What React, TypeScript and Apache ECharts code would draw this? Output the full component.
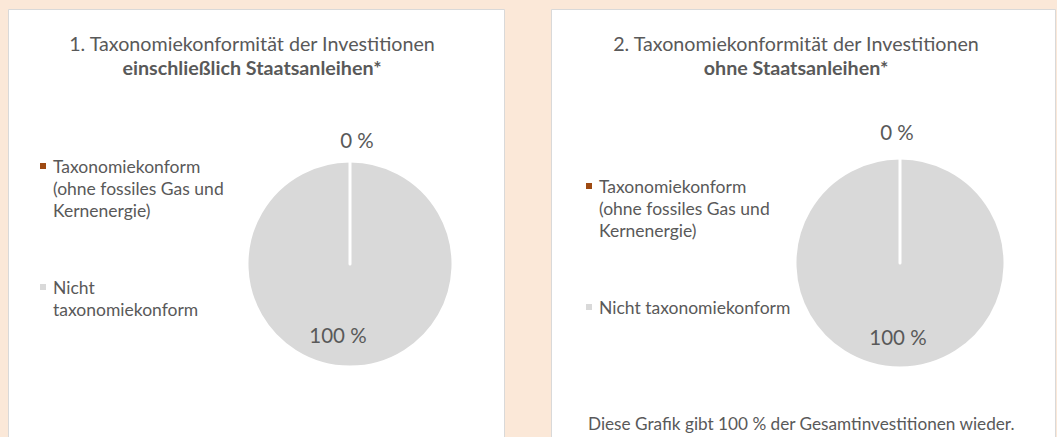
import React, { useEffect, useRef } from "react";
import * as echarts from "echarts";

const categories = [
  "Taxonomiekonform (ohne fossiles Gas und Kernenergie)",
  "Nicht taxonomiekonform",
];
const valuesWithBonds = [0, 100];
const valuesWithoutBonds = [0, 100];
const sliceColors = ["#9E4A12", "#D9D9D9"];
const titleLine1 = [
  "1. Taxonomiekonformität der Investitionen",
  "2. Taxonomiekonformität der Investitionen",
];
const titleLine2 = ["einschließlich Staatsanleihen*", "ohne Staatsanleihen*"];
const footnote = "Diese Grafik gibt 100 % der Gesamtinvestitionen wieder.";
const legendLinesLeft = [
  ["Taxonomiekonform", "(ohne fossiles Gas und", "Kernenergie)"],
  ["Nicht", "taxonomiekonform"],
];
const legendLinesRight = [
  ["Taxonomiekonform", "(ohne fossiles Gas und", "Kernenergie)"],
  ["Nicht taxonomiekonform"],
];

const FONT = "Lato, 'Noto Sans', sans-serif";
const TEXT = "#595959";
const BG = "#FBE8D8";

const PIE_CENTERS: [number, number][] = [
  [350, 264],
  [900, 263],
];
const PIE_RADII = [103, 105];
const LABEL_OFFSETS = [
  [[7, -21], [-12, 16]],
  [[-3, -26], [-2, 18]],
];

function makeLegendFormatter(lines: string[][]) {
  return (name: string) => {
    const idx = categories.indexOf(name);
    return lines[idx]
      .map((l, i) => (i === 0 ? `{m${idx}|}{g|}${l}` : `{ind|}${l}`))
      .join("\n");
  };
}

const legendRich = {
  m0: { width: 6, height: 6, backgroundColor: sliceColors[0], lineHeight: 22 },
  m1: { width: 6, height: 6, backgroundColor: sliceColors[1], lineHeight: 22 },
  g: { width: 7, lineHeight: 22 },
  ind: { width: 13, lineHeight: 22 },
};

function pieSeries(values: number[], s: number) {
  return {
    type: "pie",
    center: PIE_CENTERS[s],
    radius: PIE_RADII[s],
    startAngle: 90,
    clockwise: true,
    avoidLabelOverlap: false,
    emphasis: { disabled: true },
    itemStyle: { borderColor: "#FFFFFF", borderWidth: 3 },
    labelLine: { show: false, length: 0, length2: 0 },
    label: {
      formatter: "{c} %",
      color: TEXT,
      fontFamily: FONT,
      fontSize: 20.5,
      distanceToLabelLine: 0,
    },
    labelLayout: (params: any) => {
      const off = LABEL_OFFSETS[s][params.dataIndex];
      return { align: "center", verticalAlign: "middle", dx: off[0], dy: off[1] };
    },
    data: values.map((v, i) => ({
      name: categories[i],
      value: v,
      itemStyle: { color: sliceColors[i] },
      label: { position: i === 0 ? "outside" : "inside" },
    })),
  };
}

export default function App() {
  const ref = useRef<HTMLDivElement>(null);
  useEffect(() => {
    if (!ref.current) return;
    const chart = echarts.init(ref.current, undefined, { renderer: "svg" });
    const titleRich = {
      a: { fontSize: 19.7, color: TEXT, fontFamily: FONT, lineHeight: 24, fontWeight: "normal" },
      b: { fontSize: 19.7, color: TEXT, fontFamily: FONT, lineHeight: 24, fontWeight: "bold" },
    };
    const legendText = { color: TEXT, fontFamily: FONT, fontSize: 17.5, lineHeight: 22, rich: legendRich };
    // separator line of the zero slice at 12 o'clock, derived from the pie layout constants
    const separators = PIE_CENTERS.map((c, i) => ({
      type: "line",
      z: 100,
      shape: { x1: c[0], y1: c[1], x2: c[0], y2: c[1] - PIE_RADII[i] - 1 },
      style: { stroke: "#FFFFFF", lineWidth: 3, lineCap: "round" },
    }));
    chart.setOption({
      animation: false,
      backgroundColor: BG,
      graphic: [
        {
          type: "rect",
          z: -10,
          shape: { x: 8.5, y: 9.5, width: 496, height: 440 },
          style: { fill: "#FFFFFF", stroke: "#D9D9D9", lineWidth: 1 },
        },
        {
          type: "rect",
          z: -10,
          shape: { x: 551.5, y: 9.5, width: 504, height: 440 },
          style: { fill: "#FFFFFF", stroke: "#D9D9D9", lineWidth: 1 },
        },
        ...separators,
      ],
      title: [
        {
          text: `{a|${titleLine1[0]}}\n{b|${titleLine2[0]}}`,
          left: 252,
          top: 31,
          padding: 0,
          textAlign: "center",
          textStyle: { fontWeight: "normal", rich: titleRich },
        },
        {
          text: `{a|${titleLine1[1]}}\n{b|${titleLine2[1]}}`,
          left: 796,
          top: 31,
          padding: 0,
          textAlign: "center",
          textStyle: { fontWeight: "normal", rich: titleRich },
        },
        {
          text: footnote,
          left: 588,
          top: 413,
          padding: 0,
          textStyle: { color: TEXT, fontFamily: FONT, fontSize: 17.2, fontWeight: "normal", lineHeight: 20 },
        },
      ],
      legend: [
        {
          orient: "vertical",
          left: 35,
          top: 155,
          padding: 0,
          itemGap: 55,
          icon: "none",
          itemWidth: 0,
          itemHeight: 0,
          selectedMode: false,
          data: categories,
          formatter: makeLegendFormatter(legendLinesLeft),
          textStyle: legendText,
        },
        {
          orient: "vertical",
          left: 581,
          top: 175,
          padding: 0,
          itemGap: 55,
          icon: "none",
          itemWidth: 0,
          itemHeight: 0,
          selectedMode: false,
          data: categories,
          formatter: makeLegendFormatter(legendLinesRight),
          textStyle: legendText,
        },
      ],
      series: [pieSeries(valuesWithBonds, 0), pieSeries(valuesWithoutBonds, 1)],
    });
    return () => chart.dispose();
  }, []);
  return (
    <div
      ref={ref}
      style={{ position: "absolute", left: 0, top: 0, width: 1057, height: 437 }}
    />
  );
}
